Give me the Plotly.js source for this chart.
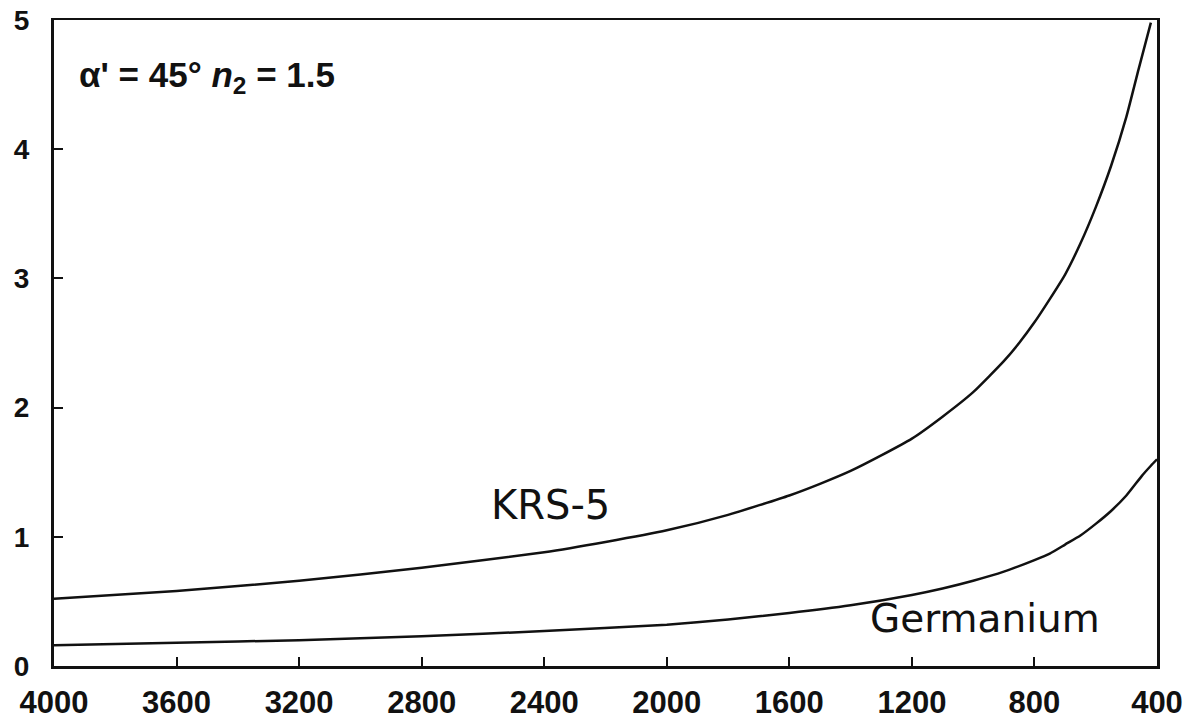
<!DOCTYPE html>
<html>
<head>
<meta charset="utf-8">
<script src="https://cdn.plot.ly/plotly-3.0.1.min.js"></script>
<style>html,body{margin:0;padding:0;background:#fff;}#chart{width:1192px;height:727px;}</style>
</head>
<body>
<div id="chart"></div>
<script>
// Wavenumber (cm-1) and values
const krsWavenumber = [4000, 3600, 3200, 2800, 2400, 2200, 2000, 1800, 1600, 1500, 1400, 1300, 1200, 1100, 1000, 900, 850, 800, 750, 700, 650, 600, 550, 500, 460, 420];
const krsValues     = [0.52, 0.58, 0.66, 0.76, 0.88, 0.96, 1.05, 1.17, 1.32, 1.41, 1.51, 1.63, 1.76, 1.93, 2.12, 2.36, 2.50, 2.66, 2.84, 3.03, 3.27, 3.55, 3.87, 4.25, 4.62, 4.98];
const geWavenumber  = [4000, 3600, 3200, 2800, 2400, 2000, 1800, 1600, 1400, 1200, 1100, 1000, 900, 800, 750, 700, 650, 600, 550, 500, 450, 420, 400];
const geValues      = [0.16, 0.18, 0.20, 0.23, 0.27, 0.32, 0.36, 0.41, 0.47, 0.55, 0.60, 0.66, 0.73, 0.82, 0.87, 0.94, 1.01, 1.10, 1.20, 1.32, 1.47, 1.55, 1.60];
const xTickVals = [4000, 3600, 3200, 2800, 2400, 2000, 1600, 1200, 800, 400];
const xTickText = ['4000', '3600', '3200', '2800', '2400', '2000', '1600', '1200', '800', '400'];
const yTickVals = [0, 1, 2, 3, 4, 5];
const yTickText = ['0', '1', '2', '3', '4', '5'];

const lineStyle = {color: '#111', width: 2.5, shape: 'spline', smoothing: 0.5};
const traces = [
  {x: krsWavenumber, y: krsValues, mode: 'lines', line: lineStyle, name: 'KRS-5', hoverinfo: 'x+y'},
  {x: geWavenumber, y: geValues, mode: 'lines', line: lineStyle, name: 'Germanium', hoverinfo: 'x+y'}
];

const layout = {
  width: 1192, height: 727,
  margin: {l: 54, r: 35, t: 20, b: 61, pad: 0},
  paper_bgcolor: '#fff', plot_bgcolor: '#fff',
  showlegend: false,
  font: {family: 'Liberation Sans, Arial, sans-serif', color: '#111'},
  xaxis: {
    range: [4000, 400], autorange: false,
    tickvals: xTickVals, ticktext: xTickText,
    ticks: 'inside', ticklen: 9, tickwidth: 2, tickcolor: '#111',
    showline: true, linecolor: '#111', linewidth: 2.5, mirror: true,
    showgrid: false, zeroline: false,
    tickfont: {family: 'Liberation Sans, Arial, sans-serif', size: 31, color: '#111', weight: 'bold'},
    ticklabelstandoff: 7
  },
  yaxis: {
    range: [0, 5], autorange: false,
    tickvals: yTickVals, ticktext: yTickText,
    ticks: 'inside', ticklen: 9, tickwidth: 2, tickcolor: '#111',
    showline: true, linecolor: '#111', linewidth: 3, mirror: true,
    showgrid: false, zeroline: false,
    tickfont: {family: 'Liberation Sans, Arial, sans-serif', size: 28, color: '#111', weight: 'bold'},
    ticklabelstandoff: 16
  },
  annotations: [
    {x: 3925, y: 4.56, xref: 'x', yref: 'y', xanchor: 'left', yanchor: 'middle', showarrow: false,
     text: "α' = 45° <i>n</i><sub>2</sub> = 1.5",
     font: {family: 'Liberation Sans, Arial, sans-serif', size: 35, color: '#111', weight: 'bold'}},
    {x: 2378, y: 1.25, xref: 'x', yref: 'y', xanchor: 'center', yanchor: 'middle', showarrow: false,
     text: 'KRS-5', font: {family: 'DejaVu Sans, sans-serif', size: 40, color: '#111'}},
    {x: 961, y: 0.37, xref: 'x', yref: 'y', xanchor: 'center', yanchor: 'middle', showarrow: false,
     text: 'Germanium', font: {family: 'DejaVu Sans, sans-serif', size: 39, color: '#111'}}
  ]
};

Plotly.newPlot('chart', traces, layout, {displayModeBar: false, staticPlot: true});
</script>
</body>
</html>
